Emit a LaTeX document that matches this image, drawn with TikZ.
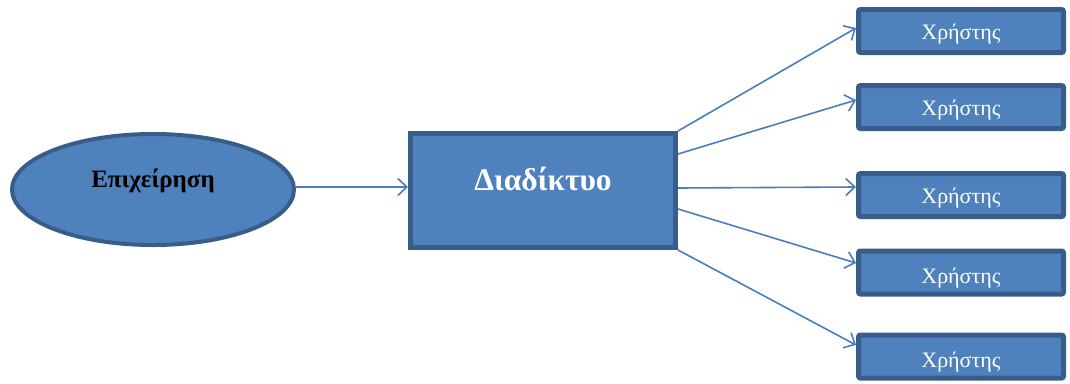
\documentclass[tikz,border=0pt]{standalone}
\usepackage{fontspec}
\setmainfont{Liberation Serif}
\usetikzlibrary{arrows.meta,shapes.geometric}
\definecolor{boxfill}{HTML}{4F81BD}
\definecolor{boxline}{HTML}{385D8A}
\definecolor{linkcol}{HTML}{4A7EBB}
\tikzset{
  firm/.style={ellipse, fill=boxfill, draw=boxline, line width=4pt,
    minimum width=282pt, minimum height=111pt, inner sep=0pt},
  netbox/.style={rectangle, fill=boxfill, draw=boxline, line width=5pt,
    minimum width=265pt, minimum height=114pt, inner sep=0pt},
  userbox/.style={rectangle, rounded corners=2pt, fill=boxfill, draw=boxline,
    line width=5pt, minimum width=205pt, minimum height=43pt, inner sep=0pt},
  link/.style={draw=linkcol, line width=1.6pt,
    -{Straight Barb[length=9pt,width=17pt,line width=1.6pt]}},
  usertext/.style={text=white, font=\fontsize{22}{24}\selectfont},
}
\begin{document}
\begin{tikzpicture}[x=1pt,y=-1pt]
\useasboundingbox (0,0) rectangle (1070,383);

% shapes
\node[firm] (firm) at (153,189.5) {};
\node[netbox] (net) at (543,190.5) {};
\node[userbox] (u1) at (961,31) {};
\node[userbox] (u2) at (961,107) {};
\node[userbox] (u3) at (961,195) {};
\node[userbox] (u4) at (961,272.5) {};
\node[userbox] (u5) at (961,356.5) {};

% labels
\node[font=\bfseries\fontsize{25}{27}\selectfont, text=black] (firmlabel) at (153,181) {Επιχείρηση};
\node[font=\bfseries\fontsize{31.5}{33}\selectfont, text=white] (netlabel) at (543,179) {Διαδίκτυο};
\node[usertext] (t1) at (961,34) {Χρήστης};
\node[usertext] (t2) at (961,110) {Χρήστης};
\node[usertext] (t3) at (961,198) {Χρήστης};
\node[usertext] (t4) at (961,278) {Χρήστης};
\node[usertext] (t5) at (961,362) {Χρήστης};

% connectors
\draw[link] ([yshift=2.5pt]firm.east) -- ([yshift=3.5pt]net.west);
\draw[link] (net.north east) -- ([yshift=3pt]u1.west);
\draw[link] ([yshift=36.5pt]net.east) -- ([yshift=7pt]u2.west);
\draw[link] ([yshift=2.5pt]net.east) -- ([yshift=8pt]u3.west);
\draw[link] ([yshift=-18.5pt]net.east) -- ([yshift=9.5pt]u4.west);
\draw[link] (net.south east) -- ([yshift=11.5pt]u5.west);
\end{tikzpicture}
\end{document}
